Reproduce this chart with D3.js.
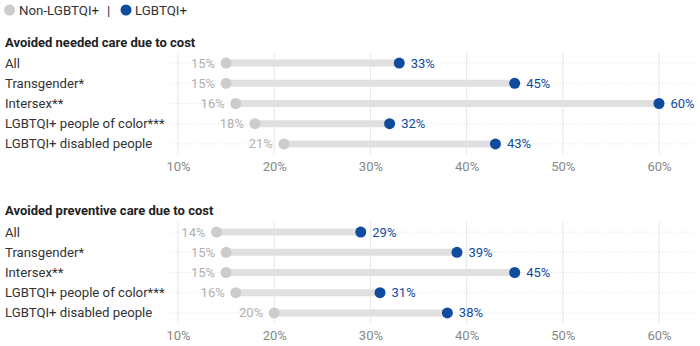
<!DOCTYPE html>
<html><head><meta charset="utf-8">
<script src="https://cdn.jsdelivr.net/npm/d3@7"></script>
<style>
body{margin:0;background:#fff;font-family:Roboto,"Noto Sans",sans-serif;}
svg text{font-family:Roboto,"Noto Sans",sans-serif;}
</style></head><body>
<svg id="c" width="700" height="346"></svg>
<script>
const categories = ["All","Transgender*","Intersex**","LGBTQI+ people of color***","LGBTQI+ disabled people"];
const panelTitles = ["Avoided needed care due to cost","Avoided preventive care due to cost"];
const needNon = [15,15,16,18,21];
const needLGB = [33,45,60,32,43];
const prevNon = [14,15,15,16,20];
const prevLGB = [29,39,45,31,38];
const tickValues = [10,20,30,40,50,60];
const legendLabels = ["Non-LGBTQI+","LGBTQI+"];

const grey = "#cccccc", bar = "#e0e0e0", blue = "#0f4b9e", greyText = "#b0b0b0";
const svg = d3.select("#c");
const x = d3.scaleLinear().domain([10,60]).range([178,659]);
const plotL = 170, plotR = 695;

// legend
const lg = svg.append("g");
lg.append("circle").attr("cx",9.5).attr("cy",10).attr("r",5.5).attr("fill",grey);
lg.append("text").attr("x",19).attr("y",15).attr("font-size",13.3).attr("fill","#333").text(legendLabels[0]);
lg.append("text").attr("x",107).attr("y",15).attr("font-size",13.3).attr("fill","#333").text("|");
lg.append("circle").attr("cx",126).attr("cy",10).attr("r",5.5).attr("fill",blue);
lg.append("text").attr("x",135).attr("y",15).attr("font-size",13.3).attr("fill","#333").text(legendLabels[1]);

const panels = [
  {title:panelTitles[0], non:needNon, lgb:needLGB, top:53, titleY:47},
  {title:panelTitles[1], non:prevNon, lgb:prevLGB, top:222, titleY:215}
];

panels.forEach(p=>{
  const g = svg.append("g");
  g.append("text").attr("x",5).attr("y",p.titleY).attr("font-size",13).attr("font-weight",700).attr("fill","#222").text(p.title);
  const y = d3.scaleBand().domain(categories).range([p.top,p.top+101]);
  const cy = c => y(c)+y.bandwidth()/2;
  g.append("g").selectAll("line").data(tickValues).join("line")
    .attr("x1",d=>x(d)).attr("x2",d=>x(d)).attr("y1",p.top).attr("y2",p.top+101)
    .attr("stroke","#e6e6e6").attr("stroke-width",1);
  g.append("g").selectAll("line").data(categories).join("line")
    .attr("x1",plotL).attr("x2",plotR).attr("y1",d=>cy(d)).attr("y2",d=>cy(d))
    .attr("stroke","#e4e4e4").attr("stroke-dasharray","1,2");
  const ax = g.append("g").attr("transform",`translate(0,${p.top+101})`)
    .call(d3.axisBottom(x).tickValues(tickValues).tickFormat(d=>d+"%").tickSize(0).tickPadding(8));
  ax.select(".domain").remove();
  ax.selectAll("text").attr("font-size",13).attr("fill","#888").style("font-family","Roboto");
  g.append("g").selectAll("text").data(categories).join("text")
    .attr("x",5).attr("y",d=>cy(d)+4.5).attr("font-size",13.2).attr("fill","#333").text(d=>d);
  g.append("g").selectAll("line").data(categories).join("line")
    .attr("x1",(d,i)=>x(p.non[i])).attr("x2",(d,i)=>x(p.lgb[i]))
    .attr("y1",d=>cy(d)).attr("y2",d=>cy(d)).attr("stroke",bar).attr("stroke-width",7);
  g.append("g").selectAll("circle").data(categories).join("circle")
    .attr("cx",(d,i)=>x(p.non[i])).attr("cy",d=>cy(d)).attr("r",5.5).attr("fill",grey);
  g.append("g").selectAll("circle").data(categories).join("circle")
    .attr("cx",(d,i)=>x(p.lgb[i])).attr("cy",d=>cy(d)).attr("r",5.5).attr("fill",blue);
  g.append("g").selectAll("text").data(categories).join("text")
    .attr("x",(d,i)=>x(p.non[i])-11).attr("y",d=>cy(d)+4.5).attr("text-anchor","end")
    .attr("font-size",13).attr("fill",greyText).text((d,i)=>p.non[i]+"%");
  g.append("g").selectAll("text").data(categories).join("text")
    .attr("x",(d,i)=>x(p.lgb[i])+11.5).attr("y",d=>cy(d)+4.5)
    .attr("font-size",13).attr("fill",blue).text((d,i)=>p.lgb[i]+"%");
});
</script></body></html>
